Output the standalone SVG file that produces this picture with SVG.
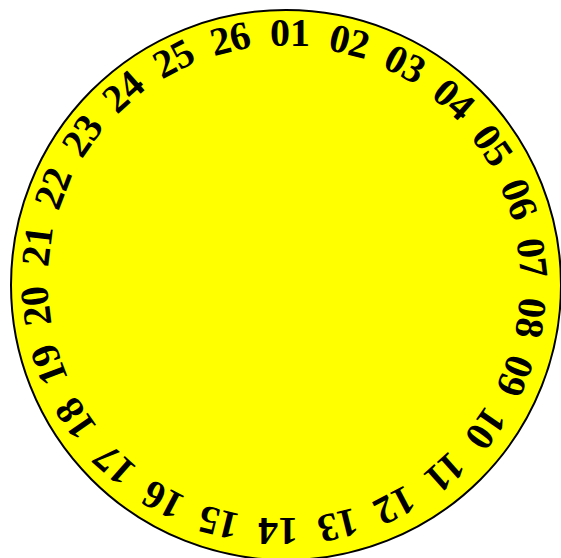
<svg xmlns="http://www.w3.org/2000/svg" width="561" height="558" viewBox="0 0 561 558">
<style>
.n{font-family:"Liberation Serif","Times New Roman",serif;font-weight:bold;font-size:40px;fill:#000;text-anchor:middle}
</style>
<rect width="561" height="558" fill="#fff"/>
<circle cx="286" cy="285" r="275" fill="#ffff00" stroke="#000" stroke-width="2"/>
<g id="labels" transform="translate(284,282)">
<g id="n01" transform="rotate(0)"><text class="n" x="6" y="-236">01</text></g>
<g id="n02" transform="rotate(13.846)"><text class="n" x="6" y="-236">02</text></g>
<g id="n03" transform="rotate(27.692)"><text class="n" x="6" y="-236">03</text></g>
<g id="n04" transform="rotate(41.538)"><text class="n" x="6" y="-236">04</text></g>
<g id="n05" transform="rotate(55.385)"><text class="n" x="6" y="-236">05</text></g>
<g id="n06" transform="rotate(69.231)"><text class="n" x="6" y="-236">06</text></g>
<g id="n07" transform="rotate(83.077)"><text class="n" x="6" y="-236">07</text></g>
<g id="n08" transform="rotate(96.923)"><text class="n" x="6" y="-236">08</text></g>
<g id="n09" transform="rotate(110.769)"><text class="n" x="6" y="-236">09</text></g>
<g id="n10" transform="rotate(124.615)"><text class="n" x="6" y="-236">10</text></g>
<g id="n11" transform="rotate(138.462)"><text class="n" x="6" y="-236">11</text></g>
<g id="n12" transform="rotate(152.308)"><text class="n" x="6" y="-236">12</text></g>
<g id="n13" transform="rotate(166.154)"><text class="n" x="6" y="-236">13</text></g>
<g id="n14" transform="rotate(180)"><text class="n" x="6" y="-236">14</text></g>
<g id="n15" transform="rotate(193.846)"><text class="n" x="6" y="-236">15</text></g>
<g id="n16" transform="rotate(207.692)"><text class="n" x="6" y="-236">16</text></g>
<g id="n17" transform="rotate(221.538)"><text class="n" x="6" y="-236">17</text></g>
<g id="n18" transform="rotate(235.385)"><text class="n" x="6" y="-236">18</text></g>
<g id="n19" transform="rotate(249.231)"><text class="n" x="6" y="-236">19</text></g>
<g id="n20" transform="rotate(263.077)"><text class="n" x="6" y="-236">20</text></g>
<g id="n21" transform="rotate(276.923)"><text class="n" x="6" y="-236">21</text></g>
<g id="n22" transform="rotate(290.769)"><text class="n" x="6" y="-236">22</text></g>
<g id="n23" transform="rotate(304.615)"><text class="n" x="6" y="-236">23</text></g>
<g id="n24" transform="rotate(318.462)"><text class="n" x="6" y="-236">24</text></g>
<g id="n25" transform="rotate(332.308)"><text class="n" x="6" y="-236">25</text></g>
<g id="n26" transform="rotate(346.154)"><text class="n" x="6" y="-236">26</text></g>
</g>
</svg>
